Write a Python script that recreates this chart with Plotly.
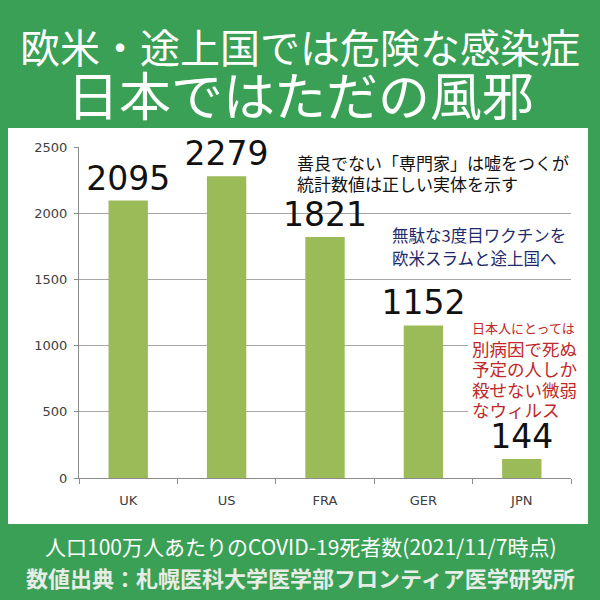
import plotly.graph_objects as go

countries = ["UK", "US", "FRA", "GER", "JPN"]
deaths_per_million = [2095, 2279, 1821, 1152, 144]
y_ticks = [0, 500, 1000, 1500, 2000, 2500]

title1 = "欧米・途上国では危険な感染症"
title2 = "日本ではただの風邪"
note_black = ["善良でない「専門家」は嘘をつくが", "統計数値は正しい実体を示す"]
note_blue = ["無駄な3度目ワクチンを", "欧米スラムと途上国へ"]
note_red_small = "日本人にとっては"
note_red = ["別病因で死ぬ", "予定の人しか", "殺せない微弱", "なウィルス"]
footer1 = "人口100万人あたりのCOVID-19死者数(2021/11/7時点)"
footer2 = "数値出典：札幌医科大学医学部フロンティア医学研究所"

W, H = 600, 600
L, R, T, B = 79, 571, 147, 478
GREEN = "#3aa055"
JP = "Noto Sans CJK JP"


def px(x):
    return (x - L) / (R - L)


def py(y):
    return (B - y) / (B - T)


fig = go.Figure()
fig.add_trace(go.Bar(
    x=countries, y=deaths_per_million,
    marker=dict(color="#9bbb59", line=dict(width=0)),
    text=[str(v) for v in deaths_per_million],
    textposition="outside",
    constraintext="none",
    textfont=dict(size=33, color="#111111", family="DejaVu Sans"),
    cliponaxis=False,
    width=0.4,
))

# white chart panel
fig.add_shape(type="rect", xref="paper", yref="paper",
              x0=px(8), x1=px(588), y0=py(524), y1=py(128),
              fillcolor="white", line=dict(width=0), layer="below")
# white box behind the red note (hides gridlines)
fig.add_shape(type="rect", xref="paper", yref="paper",
              x0=px(468), x1=px(580), y0=py(417), y1=py(316),
              fillcolor="white", line=dict(width=0), layer="above")

ann = []
ann.append(dict(text=title1, x=px(300), y=py(46), font=dict(size=40, color="white", family=JP)))
ann.append(dict(text=title2, x=px(300), y=py(94), font=dict(size=52, color="white", family=JP)))
ann.append(dict(text=footer1, x=px(301), y=py(546), font=dict(size=21, color="white", family=JP)))
ann.append(dict(text="<b>" + footer2 + "</b>", x=px(300), y=py(577), font=dict(size=22, color="#e6ece6", family=JP)))
for i, line in enumerate(note_black):
    ann.append(dict(text=line, x=px(296), y=py(162 + 21 * i), xanchor="left",
                    font=dict(size=17, color="#111111", family=JP)))
for i, line in enumerate(note_blue):
    ann.append(dict(text=line, x=px(391), y=py(235 + 23 * i), xanchor="left",
                    font=dict(size=16.5, color="#1f2a6b", family=JP)))
ann.append(dict(text=note_red_small, x=px(471), y=py(327), xanchor="left",
                font=dict(size=13, color="#c0282a", family=JP)))
for i, line in enumerate(note_red):
    ann.append(dict(text=line, x=px(471), y=py(348 + 20.5 * i), xanchor="left",
                    font=dict(size=17.5, color="#c0282a", family=JP)))
for a in ann:
    a.setdefault("xanchor", "center")
    a.update(xref="paper", yref="paper", yanchor="middle", showarrow=False,
             borderpad=0, align="left")

fig.update_layout(
    width=W, height=H,
    margin=dict(l=L, r=W - R, t=T, b=H - B),
    paper_bgcolor=GREEN, plot_bgcolor="white",
    showlegend=False, annotations=ann,
    bargap=0.6,
)
fig.update_xaxes(
    showline=True, linecolor="#8c8c8c", linewidth=1,
    ticks="outside", tickson="boundaries", ticklen=5, tickcolor="#8c8c8c",
    ticklabelstandoff=10,
    tickfont=dict(size=13, color="#404040", family="DejaVu Sans"),
    showgrid=False,
)
fig.update_yaxes(
    range=[0, 2500], tickvals=y_ticks,
    showline=True, linecolor="#8c8c8c", linewidth=1,
    ticks="outside", ticklen=4, tickcolor="#8c8c8c",
    ticklabelstandoff=4,
    gridcolor="#a6a6a6", gridwidth=1,
    tickfont=dict(size=13, color="#404040", family="DejaVu Sans"),
    zeroline=False,
)

fig.write_html("out.html", config={"displayModeBar": False},
               post_script="document.body.style.margin='0';")
